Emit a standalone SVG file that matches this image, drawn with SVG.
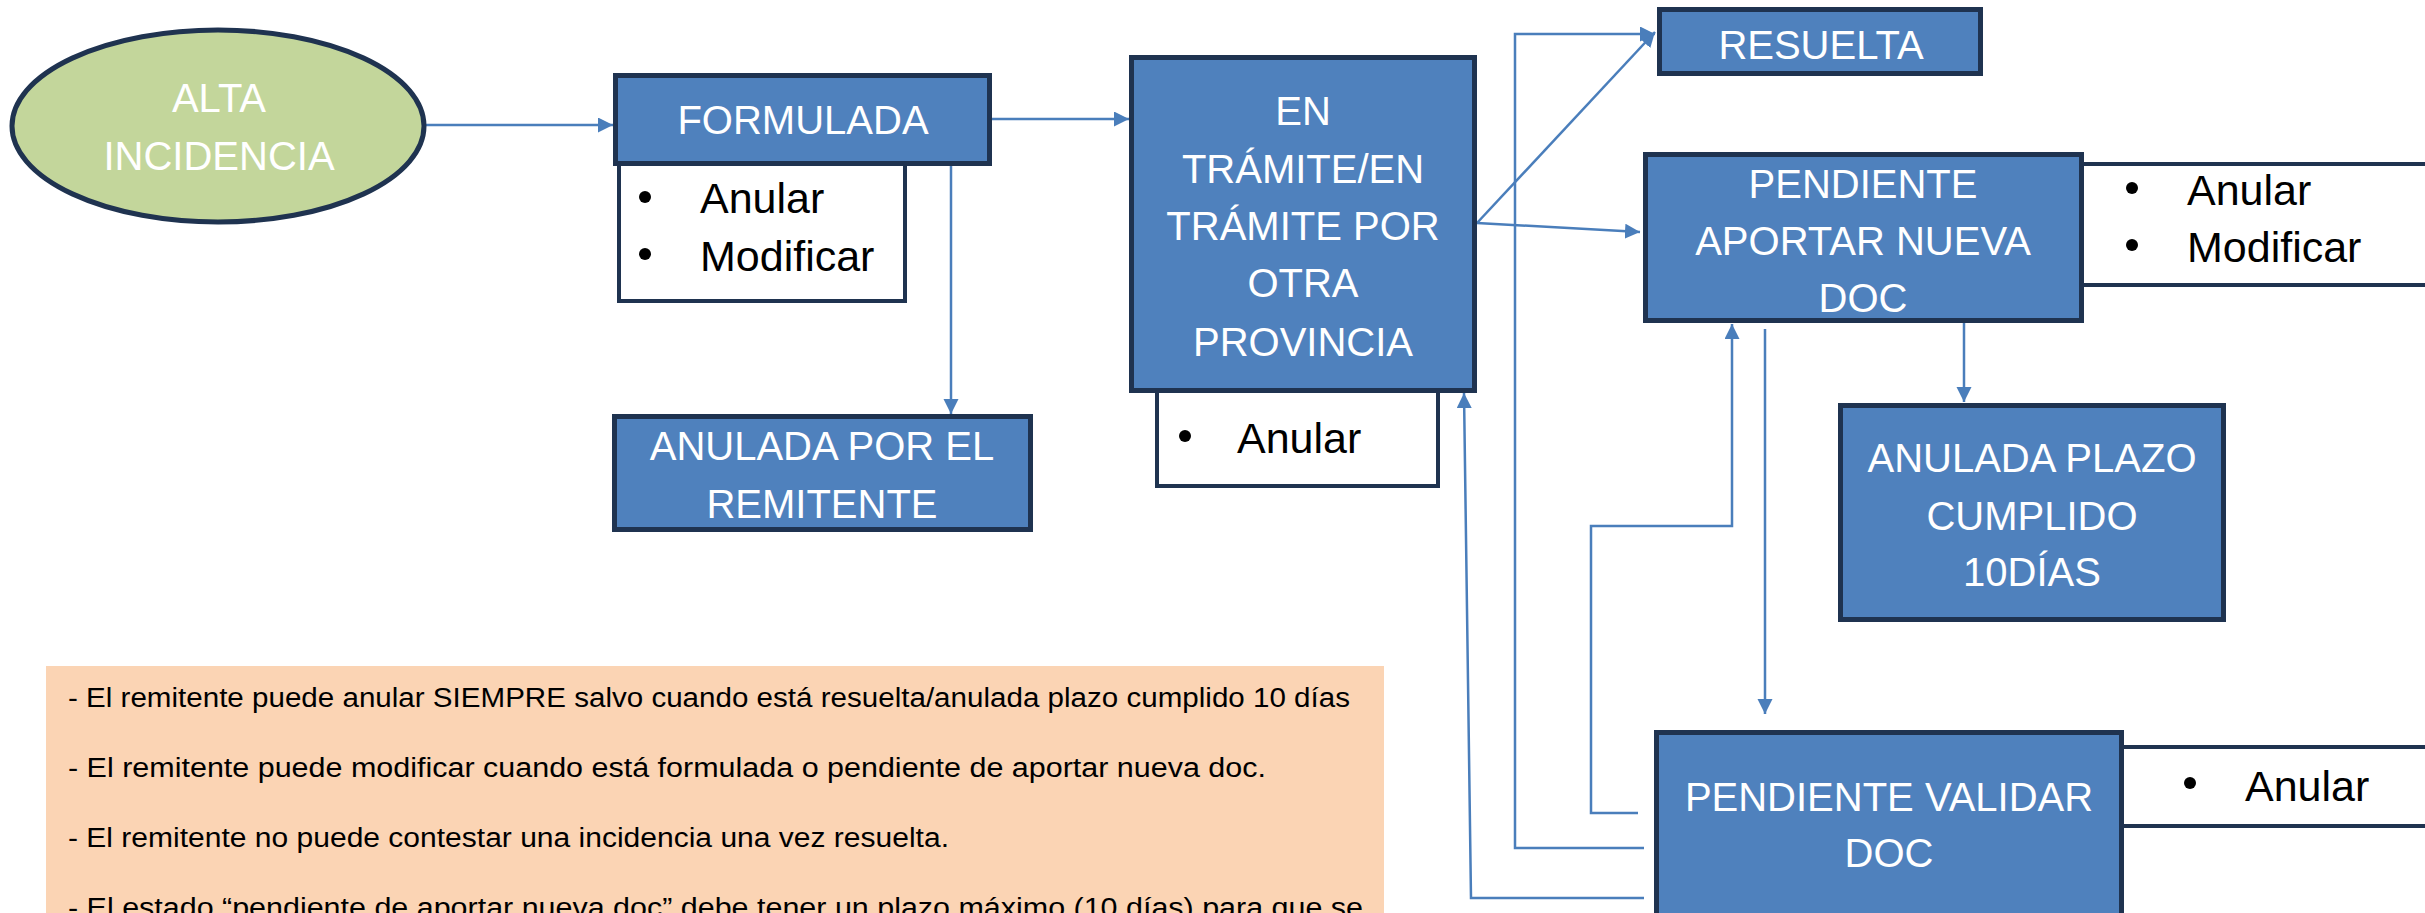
<svg xmlns="http://www.w3.org/2000/svg" width="2425" height="913" viewBox="0 0 2425 913">
<defs>
<style>
.box{fill:#4F81BD;stroke:#1F3350;stroke-width:5}
.wbox{fill:#FFFFFF;stroke:#1F3350;stroke-width:4}
.lbl{font-family:"Liberation Sans",Arial,sans-serif;font-size:40px;fill:#FFFFFF;text-anchor:middle}
.bt{font-family:"Liberation Sans",Arial,sans-serif;font-size:43px;fill:#000000}
.note{font-family:"Liberation Sans",Arial,sans-serif;font-size:27px;fill:#000000}
.con{fill:none;stroke:#4A7EBB;stroke-width:2.5}
</style>
<marker id="ah" markerUnits="userSpaceOnUse" markerWidth="16" markerHeight="16" refX="15" refY="7.5" orient="auto">
<path d="M0,0 L15,7.5 L0,15 z" fill="#4A7EBB"/>
</marker>
</defs>
<rect width="2425" height="913" fill="#FFFFFF"/>

<g id="note">
<rect x="46" y="666" width="1338" height="260" fill="#FBD4B4"/>
<text class="note" x="68" y="707" textLength="1282" lengthAdjust="spacingAndGlyphs">- El remitente puede anular SIEMPRE salvo cuando está resuelta/anulada plazo cumplido 10 días</text>
<text class="note" x="68" y="777" textLength="1198" lengthAdjust="spacingAndGlyphs">- El remitente puede modificar cuando está formulada o pendiente de aportar nueva doc.</text>
<text class="note" x="68" y="847" textLength="881" lengthAdjust="spacingAndGlyphs">- El remitente no puede contestar una incidencia una vez resuelta.</text>
<text class="note" x="68" y="917" textLength="1295" lengthAdjust="spacingAndGlyphs">- El estado “pendiente de aportar nueva doc” debe tener un plazo máximo (10 días) para que se</text>
</g>

<g id="connectors">
<line class="con" x1="426" y1="125" x2="613" y2="125" marker-end="url(#ah)"/>
<line class="con" x1="992" y1="119" x2="1129" y2="119" marker-end="url(#ah)"/>
<line class="con" x1="951" y1="166" x2="951" y2="414" marker-end="url(#ah)"/>
<line class="con" x1="1477" y1="223" x2="1655" y2="32" marker-end="url(#ah)"/>
<line class="con" x1="1477" y1="223" x2="1640" y2="232" marker-end="url(#ah)"/>
<line class="con" x1="1964" y1="323" x2="1964" y2="402" marker-end="url(#ah)"/>
<line class="con" x1="1765" y1="329" x2="1765" y2="714" marker-end="url(#ah)"/>
<polyline class="con" points="1638,813 1591,813 1591,526 1732,526 1732,324" marker-end="url(#ah)"/>
<polyline class="con" points="1644,848 1515,848 1515,34 1655,34" marker-end="url(#ah)"/>
<polyline class="con" points="1644,898 1471,898 1464,393" marker-end="url(#ah)"/>
</g>

<g id="alta">
<ellipse cx="218" cy="126" rx="206" ry="96" fill="#C3D69B" stroke="#1F3350" stroke-width="5"/>
<text class="lbl" x="219" y="112">ALTA</text>
<text class="lbl" x="219" y="170">INCIDENCIA</text>
</g>

<g id="formulada-acciones">
<rect class="wbox" x="619" y="163" width="286" height="138"/>
<circle cx="645" cy="197" r="6"/>
<circle cx="645" cy="254" r="6"/>
<text class="bt" x="700" y="213">Anular</text>
<text class="bt" x="700" y="271">Modificar</text>
</g>

<g id="formulada">
<rect class="box" x="615.5" y="75.5" width="374" height="88"/>
<text class="lbl" x="803" y="134">FORMULADA</text>
</g>

<g id="anulada-remitente">
<rect class="box" x="614.5" y="416.5" width="416" height="113"/>
<text class="lbl" x="822" y="460">ANULADA POR EL</text>
<text class="lbl" x="822" y="518">REMITENTE</text>
</g>

<g id="tramite-acciones">
<rect class="wbox" x="1157" y="388" width="281" height="98"/>
<circle cx="1185" cy="436" r="6"/>
<text class="bt" x="1237" y="453">Anular</text>
</g>

<g id="tramite">
<rect class="box" x="1131.5" y="57.5" width="343" height="333"/>
<text class="lbl" x="1303" y="125">EN</text>
<text class="lbl" x="1303" y="183">TRÁMITE/EN</text>
<text class="lbl" x="1303" y="240">TRÁMITE POR</text>
<text class="lbl" x="1303" y="297">OTRA</text>
<text class="lbl" x="1303" y="356">PROVINCIA</text>
</g>

<g id="resuelta">
<rect class="box" x="1659.5" y="9.5" width="321" height="64"/>
<text class="lbl" x="1821" y="59">RESUELTA</text>
</g>

<g id="aportar-acciones">
<rect class="wbox" x="2080" y="164" width="400" height="121"/>
<circle cx="2132" cy="188" r="6"/>
<circle cx="2132" cy="245" r="6"/>
<text class="bt" x="2187" y="205">Anular</text>
<text class="bt" x="2187" y="262">Modificar</text>
</g>

<g id="pendiente-aportar">
<rect class="box" x="1645.5" y="154.5" width="436" height="166"/>
<text class="lbl" x="1863" y="198">PENDIENTE</text>
<text class="lbl" x="1863" y="255">APORTAR NUEVA</text>
<text class="lbl" x="1863" y="312">DOC</text>
</g>

<g id="anulada-plazo">
<rect class="box" x="1840.5" y="405.5" width="383" height="214"/>
<text class="lbl" x="2032" y="472">ANULADA PLAZO</text>
<text class="lbl" x="2032" y="530">CUMPLIDO</text>
<text class="lbl" x="2032" y="586">10DÍAS</text>
</g>

<g id="validar-acciones">
<rect class="wbox" x="2120" y="747" width="360" height="79"/>
<circle cx="2190" cy="783" r="6"/>
<text class="bt" x="2245" y="801">Anular</text>
</g>

<g id="pendiente-validar">
<rect class="box" x="1656.5" y="732.5" width="465" height="220"/>
<text class="lbl" x="1889" y="811">PENDIENTE VALIDAR</text>
<text class="lbl" x="1889" y="867">DOC</text>
</g>
</svg>
